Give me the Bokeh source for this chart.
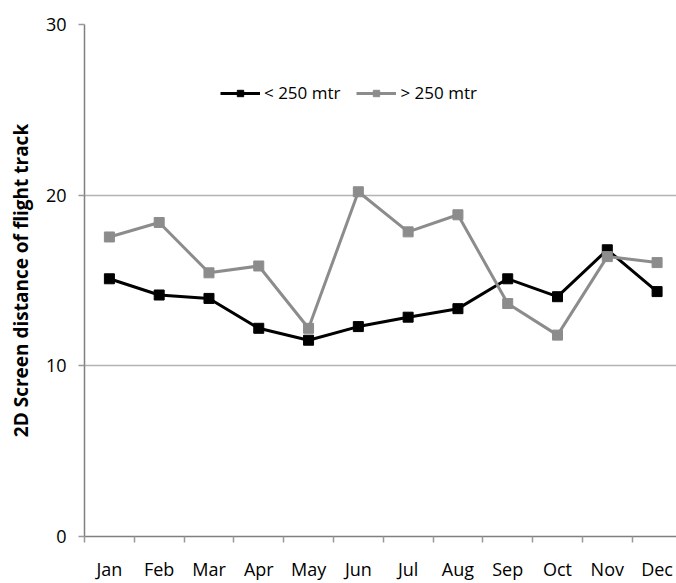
from bokeh.plotting import figure
from bokeh.models import Range1d, FixedTicker, Legend, LegendItem
from bokeh.embed import file_html
from bokeh.resources import INLINE

months = ["Jan", "Feb", "Mar", "Apr", "May", "Jun", "Jul", "Aug", "Sep", "Oct", "Nov", "Dec"]
below_250 = [15.1, 14.15, 13.95, 12.2, 11.5, 12.3, 12.85, 13.35, 15.1, 14.05, 16.8, 14.35]
above_250 = [17.55, 18.4, 15.45, 15.85, 12.2, 20.2, 17.85, 18.85, 13.65, 11.8, 16.4, 16.05]
y_ticks = [0, 10, 20, 30]

x = [i + 0.5 for i in range(len(months))]

p = figure(width=676, height=583, output_backend="svg", toolbar_location=None,
           x_range=Range1d(0, 11.89), y_range=Range1d(0, 30),
           min_border_left=84, min_border_right=0, min_border_top=24, min_border_bottom=41)
p.outline_line_color = None
p.background_fill_color = "white"

FONT = "Open Sans"

gray = "#8c8c8c"
l1 = p.line(x, below_250, line_color="black", line_width=3)
s1 = p.scatter(x, below_250, marker="square", size=10, fill_color="black", line_color="black")
l2 = p.line(x, above_250, line_color=gray, line_width=3)
s2 = p.scatter(x, above_250, marker="square", size=10, fill_color=gray, line_color=gray)

# x axis
xa = p.xaxis[0]
xa.ticker = FixedTicker(ticks=x, minor_ticks=list(range(13)))
xa.major_label_overrides = {xi: m for xi, m in zip(x, months)}
xa.major_tick_out = 0
xa.major_tick_in = 0
xa.minor_tick_out = 6
xa.minor_tick_in = 0
xa.minor_tick_line_color = "#999999"
xa.minor_tick_line_width = 1.5
xa.axis_line_color = "#808080"
xa.axis_line_width = 1.5
xa.major_label_text_font = FONT
xa.major_label_text_font_size = "18px"
xa.major_label_text_color = "black"
xa.major_label_standoff = 14

# y axis
ya = p.yaxis[0]
ya.ticker = FixedTicker(ticks=y_ticks)
ya.minor_tick_line_color = None
ya.major_tick_out = 6
ya.major_tick_in = 0
ya.major_tick_line_color = "#999999"
ya.major_tick_line_width = 1.5
ya.axis_line_color = "#808080"
ya.axis_line_width = 1.5
ya.major_label_text_font = FONT
ya.major_label_text_font_size = "18px"
ya.major_label_text_color = "black"
ya.major_label_standoff = 12
ya.axis_label = "2D Screen distance of flight track"
ya.axis_label_text_font = FONT
ya.axis_label_text_font_style = "bold"
ya.axis_label_text_font_size = "19px"
ya.axis_label_text_color = "black"
ya.axis_label_standoff = 9

p.xgrid.grid_line_color = None
p.ygrid.grid_line_color = "#b3b3b3"
p.ygrid.grid_line_width = 1.5

legend = Legend(items=[LegendItem(label="< 250 mtr", renderers=[l1, s1]),
                       LegendItem(label="> 250 mtr", renderers=[l2, s2])],
                orientation="horizontal", location=(136, 432))
legend.border_line_color = None
legend.background_fill_alpha = 0
legend.padding = 0
legend.margin = 0
legend.spacing = 16
legend.glyph_width = 40
legend.glyph_height = 16
legend.label_height = 16
legend.label_standoff = 4
legend.label_text_font = FONT
legend.label_text_font_size = "17px"
legend.label_text_color = "black"
p.add_layout(legend)

open("out.html", "w").write(file_html(p, INLINE))
